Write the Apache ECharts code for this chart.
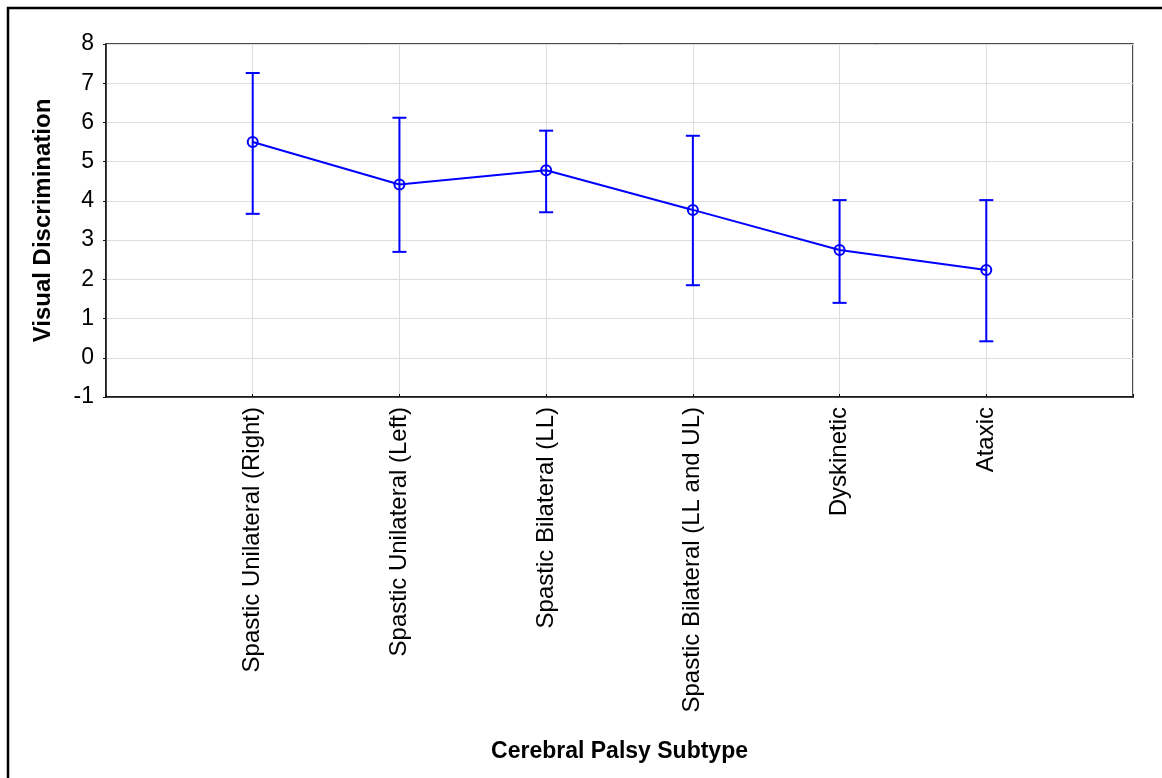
<!DOCTYPE html>
<html>
<head>
<meta charset="utf-8">
<script src="https://cdn.jsdelivr.net/npm/echarts@6/dist/echarts.min.js"></script>
<style>html,body{margin:0;padding:0;background:#fff;}#c{width:1162px;height:778px;}</style>
</head>
<body>
<div id="c"></div>
<script>
const categories = ['Spastic Unilateral (Right)', 'Spastic Unilateral (Left)', 'Spastic Bilateral (LL)', 'Spastic Bilateral (LL and UL)', 'Dyskinetic', 'Ataxic'];
const means = [5.50, 4.42, 4.78, 3.77, 2.75, 2.24];
const upper = [7.26, 6.12, 5.79, 5.66, 4.02, 4.02];
const lower = [3.67, 2.70, 3.71, 1.85, 1.40, 0.42];
const yTicks = [-1, 0, 1, 2, 3, 4, 5, 6, 7, 8];

const chart = echarts.init(document.getElementById('c'));
const font = 'Liberation Sans, Arial, sans-serif';
const blue = '#0000ff';

const lineData = means.map((m, i) => [i + 1, m]);
const errData = means.map((m, i) => [i + 1, lower[i], upper[i]]);

chart.setOption({
  animation: false,
  backgroundColor: '#fff',
  graphic: [{
    type: 'rect',
    shape: { x: 8, y: 8, width: 1200, height: 800 },
    style: { fill: 'none', stroke: '#000', lineWidth: 2.5 },
    silent: true
  }],
  grid: { left: 106, right: 29, top: 44, bottom: 381, show: true, borderColor: '#111', borderWidth: 1.5, backgroundColor: 'transparent' },
  xAxis: {
    type: 'value', min: 0, max: 7, interval: 1,
    name: 'Cerebral Palsy Subtype', nameLocation: 'middle', nameGap: 343,
    nameTextStyle: { fontFamily: font, fontSize: 23, fontWeight: 'bold', color: '#000' },
    axisLine: { show: true, onZero: false, lineStyle: { color: '#111', width: 1.5 } },
    axisTick: { show: true, inside: true, length: 3, lineStyle: { color: '#111' } },
    axisLabel: {
      rotate: 90, margin: 10, fontFamily: font, fontSize: 24, color: '#000',
      formatter: v => (v >= 1 && v <= categories.length) ? categories[v - 1] : ''
    },
    splitLine: { show: true, lineStyle: { color: '#dddddd', width: 1 } }
  },
  yAxis: {
    type: 'value', min: yTicks[0], max: yTicks[yTicks.length - 1], interval: 1,
    name: 'Visual Discrimination', nameLocation: 'middle', nameGap: 51,
    nameTextStyle: { fontFamily: font, fontSize: 24, fontWeight: 'bold', color: '#000' },
    axisLine: { show: true, onZero: false, lineStyle: { color: '#111', width: 1.5 } },
    axisTick: { show: true, inside: false, length: 3, lineStyle: { color: '#111' } },
    axisLabel: { margin: 12, fontFamily: font, fontSize: 23, color: '#000' },
    splitLine: { show: true, lineStyle: { color: '#dddddd', width: 1 } }
  },
  series: [
    {
      type: 'custom',
      data: errData,
      z: 3,
      renderItem: function (params, api) {
        const x = api.value(0);
        const lo = api.coord([x, api.value(1)]);
        const hi = api.coord([x, api.value(2)]);
        const w = 7;
        const st = { stroke: blue, lineWidth: 2 };
        return {
          type: 'group',
          children: [
            { type: 'line', shape: { x1: lo[0], y1: lo[1], x2: hi[0], y2: hi[1] }, style: st },
            { type: 'line', shape: { x1: lo[0] - w, y1: lo[1], x2: lo[0] + w, y2: lo[1] }, style: st },
            { type: 'line', shape: { x1: hi[0] - w, y1: hi[1], x2: hi[0] + w, y2: hi[1] }, style: st }
          ]
        };
      }
    },
    {
      type: 'line',
      data: lineData,
      z: 4,
      symbol: 'circle',
      symbolSize: 10,
      lineStyle: { color: blue, width: 2 },
      itemStyle: { color: 'rgba(0,0,0,0)', borderColor: blue, borderWidth: 2 }
    }
  ]
});
</script>
</body>
</html>
